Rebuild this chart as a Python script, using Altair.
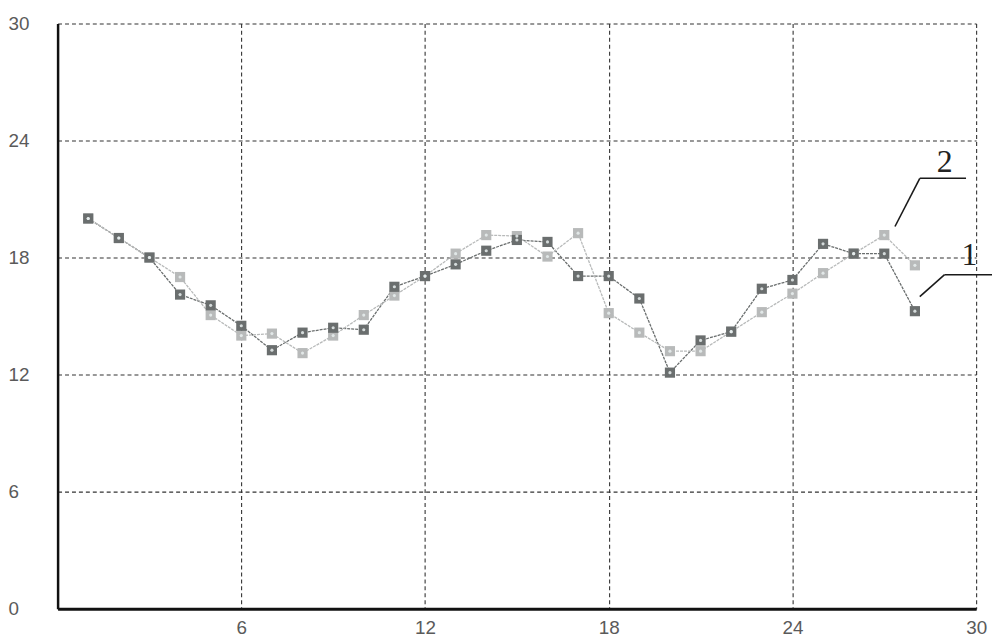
import altair as alt
import pandas as pd

# ---- data ----
x_vals = list(range(1, 29))
series1 = [20.0, 19.0, 18.0, 16.1, 15.55, 14.5, 13.25, 14.15, 14.4, 14.3,
           16.5, 17.05, 17.65, 18.35, 18.9, 18.8, 17.05, 17.05, 15.9, 12.1,
           13.75, 14.2, 16.4, 16.85, 18.7, 18.2, 18.2, 15.25]
series2 = [20.0, 19.0, 18.0, 17.0, 15.05, 14.0, 14.1, 13.1, 14.0, 15.05,
           16.05, 17.05, 18.2, 19.15, 19.1, 18.05, 19.25, 15.15, 14.15, 13.2,
           13.2, 14.2, 15.2, 16.15, 17.2, 18.2, 19.15, 17.6]
series_names = ["1", "2"]
series_colors = ["#4f5856", "#b4b6b6"]
line_colors = ["#6a6e6e", "#b8baba"]
y_tick_values = [0, 6, 12, 18, 24, 30]
x_tick_values = [6, 12, 18, 24, 30]

# annotation leader lines (data coords) and labels
lead_x = [28.16, 28.16, 28.97, 28.97]
lead_y = [22.06, 22.06, 17.12, 17.12]
lead_x2 = [29.67, 27.35, 30.54, 28.16]
lead_y2 = [22.06, 19.59, 17.12, 16.0]
label_x = [28.97, 29.78]
label_y = [22.9, 18.1]
label_text = ["2", "1"]

rows = []
for name, vals in zip(series_names, [series1, series2]):
    for xv, yv in zip(x_vals, vals):
        rows.append({"x": xv, "y": yv, "series": name})
df = pd.DataFrame(rows)

lead_df = pd.DataFrame({"x": lead_x, "y": lead_y, "x2": lead_x2, "y2": lead_y2})
lab_df = pd.DataFrame({"x": label_x, "y": label_y, "t": label_text})

xscale = alt.Scale(domain=[0, 30], nice=False, zero=False)
yscale = alt.Scale(domain=[0, 30], nice=False, zero=False)

xaxis = alt.Axis(values=x_tick_values, title=None, grid=True, ticks=False,
                 labelPadding=10, labelBaseline="top", labelFontSize=19,
                 labelFont="Liberation Sans", labelColor="#5a5a5a",
                 domainColor="#111111", domainWidth=3,
                 gridColor="#333333", gridDash=[4, 3], gridWidth=1.1,
                 labelFlush=False, labelOverlap=False)
yaxis = alt.Axis(values=y_tick_values, title=None, grid=True, ticks=False,
                 labelAlign="left", labelPadding=50, labelFontSize=19,
                 labelFont="Liberation Sans", labelColor="#5a5a5a",
                 domainColor="#111111", domainWidth=2.5,
                 gridColor="#333333", gridDash=[4, 3], gridWidth=1.1,
                 labelFlush=False, labelOverlap=False)

color_line = alt.Color("series:N", scale=alt.Scale(domain=series_names, range=line_colors), legend=None)
color_pt = alt.Color("series:N", scale=alt.Scale(domain=series_names, range=series_colors), legend=None)

base = alt.Chart(df)

lines = base.mark_line(strokeWidth=1.3, strokeDash=[3, 1]).encode(
    x=alt.X("x:Q", scale=xscale, axis=xaxis),
    y=alt.Y("y:Q", scale=yscale, axis=yaxis),
    color=color_line,
    detail="series:N",
    order=alt.Order("series:N", sort="descending"),
)

points = base.mark_point(shape="square", filled=True, size=105, opacity=1).encode(
    x=alt.X("x:Q", scale=xscale),
    y=alt.Y("y:Q", scale=yscale),
    color=color_pt,
    order=alt.Order("series:N", sort="descending"),
)

centers = base.mark_point(shape="circle", filled=True, size=10, color="#e8eeee", opacity=0.85).encode(
    x=alt.X("x:Q", scale=xscale),
    y=alt.Y("y:Q", scale=yscale),
)

leaders = alt.Chart(lead_df).mark_rule(color="#1a1a1a", strokeWidth=1.6, clip=False).encode(
    x=alt.X("x:Q", scale=xscale),
    y=alt.Y("y:Q", scale=yscale),
    x2="x2:Q",
    y2="y2:Q",
)

labels = alt.Chart(lab_df).mark_text(font="Liberation Serif", fontSize=32, color="#222222",
                                      baseline="middle", align="center").encode(
    x=alt.X("x:Q", scale=xscale),
    y=alt.Y("y:Q", scale=yscale),
    text="t:N",
)

chart = alt.layer(lines, points, centers, leaders, labels).properties(
    width=926,
    height=590,
    autosize=alt.AutoSizeParams(type="none"),
    padding={"left": 50, "top": 13, "right": 16, "bottom": 26},
    background="#ffffff",
).configure_view(stroke=None)

chart.save("out.html", embed_options={"renderer": "svg", "actions": False})
